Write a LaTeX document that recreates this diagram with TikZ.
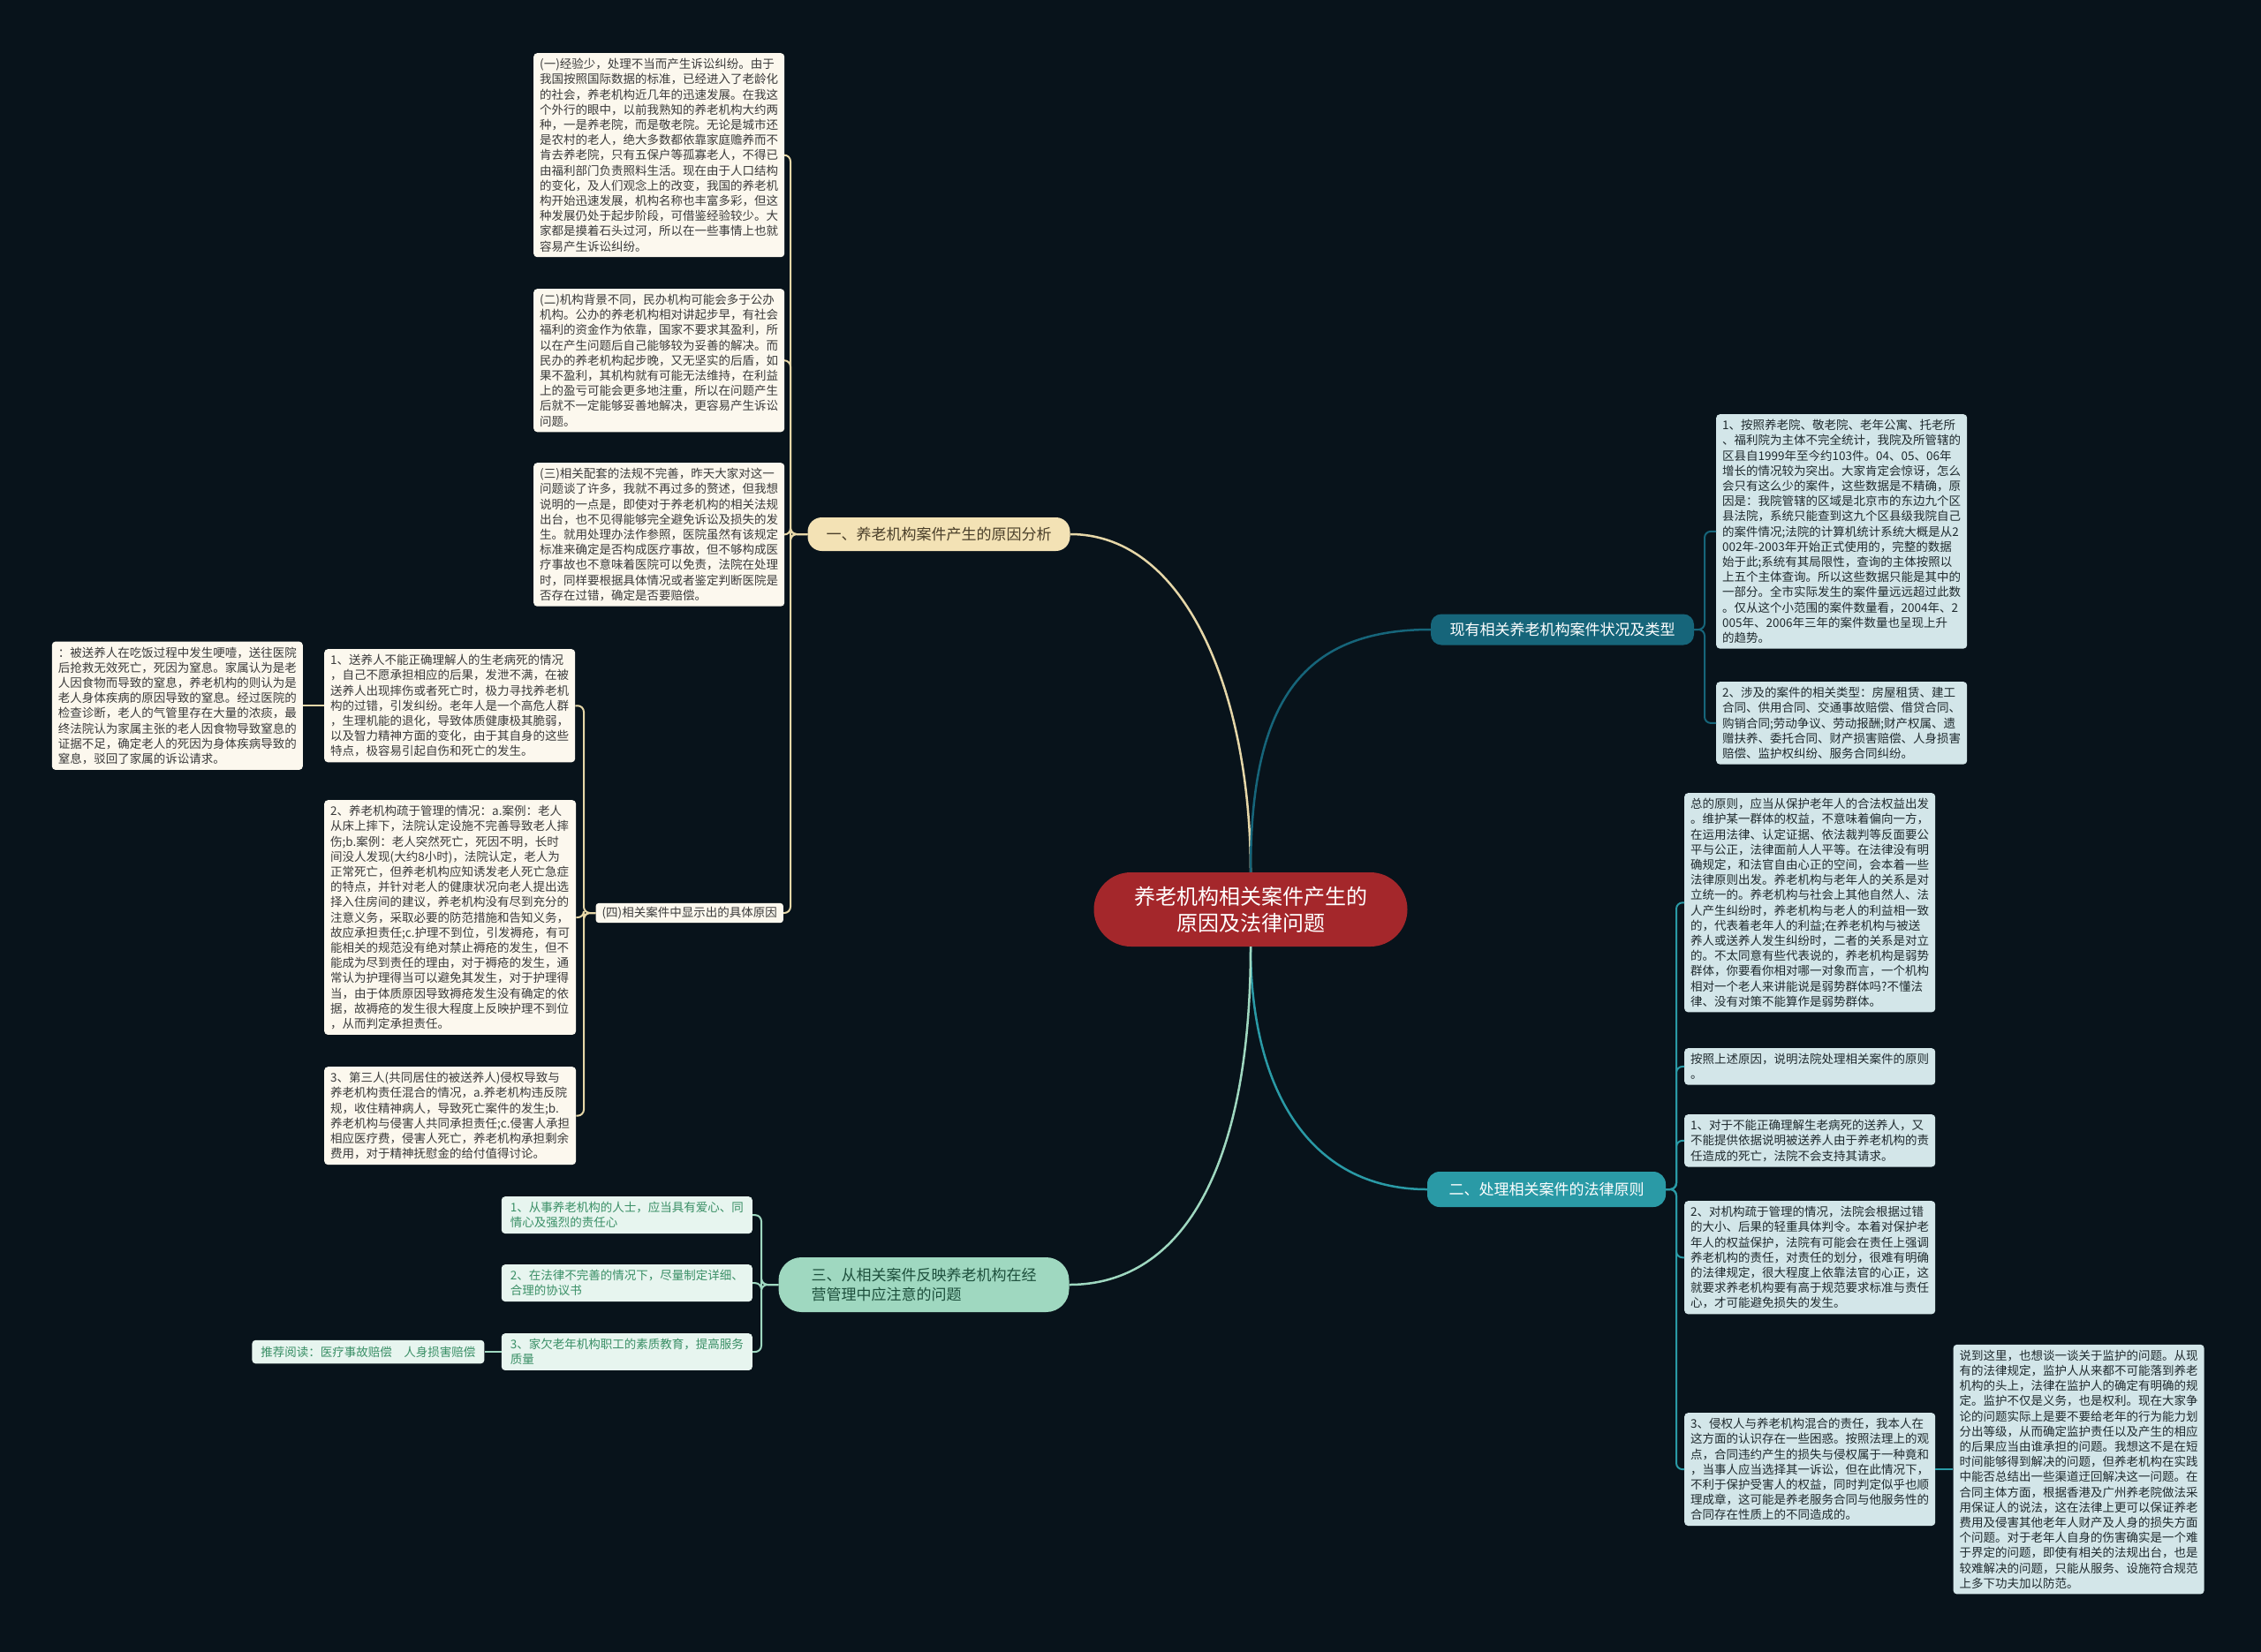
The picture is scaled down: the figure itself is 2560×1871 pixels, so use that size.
\documentclass[tikz,border=0pt]{standalone}
\usepackage{fontspec}
\setmainfont{Noto Sans CJK SC}
\definecolor{bg}{HTML}{08131B}
\definecolor{creamfill}{HTML}{FCF8EE}
\definecolor{creamtext}{HTML}{3A3A3A}
\definecolor{b1fill}{HTML}{F3E2B5}
\definecolor{b1text}{HTML}{4A3F2A}
\definecolor{beigeline}{HTML}{E6D7A8}
\definecolor{tealdark}{HTML}{16657A}
\definecolor{tealmid}{HTML}{2A9AA6}
\definecolor{bluefill}{HTML}{D3E6E9}
\definecolor{bluetext}{HTML}{1F2A2E}
\definecolor{greenbr}{HTML}{9FD8C0}
\definecolor{greenbrtext}{HTML}{1D4F3C}
\definecolor{greenfill}{HTML}{E7F5EF}
\definecolor{greentext}{HTML}{3A8F66}
\definecolor{centrefill}{HTML}{A4272B}
\tikzset{
  boxbase/.style={anchor=north west, align=left, rounded corners=4pt, inner xsep=7pt, inner ysep=6pt, font=\fontsize{13.5}{17.2}\selectfont},
  creambox/.style={boxbase, fill=creamfill, text=creamtext},
  bluebox/.style={boxbase, fill=bluefill, text=bluetext},
  greenbox/.style={boxbase, fill=greenfill, text=greentext, inner xsep=10pt},
  branchbase/.style={anchor=center, align=left, inner xsep=20pt, inner ysep=8pt, font=\fontsize{17}{22}\selectfont},
  beigecon/.style={draw=beigeline, line width=2pt, rounded corners=7pt},
  teal1con/.style={draw=tealdark, line width=2pt, rounded corners=7pt},
  teal2con/.style={draw=tealmid, line width=2pt, rounded corners=7pt},
  greencon/.style={draw=greenbr, line width=2pt, rounded corners=7pt},
}
\begin{document}
\begin{tikzpicture}[x=1pt,y=-1pt]
\fill[bg] (0,0) rectangle (2560,1871);
\useasboundingbox (0,0) rectangle (2560,1871);

% ---------- centre ----------
\node[anchor=center, fill=centrefill, text=white, rounded corners=42pt, align=center,
      inner xsep=40pt, inner ysep=14pt, minimum width=355pt, minimum height=84pt,
      font=\fontsize{24}{30}\selectfont] (centre) at (1416,1030)
  {养老机构相关案件产生的\\原因及法律问题};

% ---------- branch 1 (left top) ----------
\node[branchbase, fill=b1fill, text=b1text, rounded corners=16pt, minimum width=297pt, minimum height=38pt] (b1) at (1063,605) {一、养老机构案件产生的原因分析};

\node[creambox] (c1) at (604,60) {(一)经验少，处理不当而产生诉讼纠纷。由于\\
我国按照国际数据的标准，已经进入了老龄化\\
的社会，养老机构近几年的迅速发展。在我这\\
个外行的眼中，以前我熟知的养老机构大约两\\
种，一是养老院，而是敬老院。无论是城市还\\
是农村的老人，绝大多数都依靠家庭赡养而不\\
肯去养老院，只有五保户等孤寡老人，不得已\\
由福利部门负责照料生活。现在由于人口结构\\
的变化，及人们观念上的改变，我国的养老机\\
构开始迅速发展，机构名称也丰富多彩，但这\\
种发展仍处于起步阶段，可借鉴经验较少。大\\
家都是摸着石头过河，所以在一些事情上也就\\
容易产生诉讼纠纷。};

\node[creambox] (c2) at (604,327) {(二)机构背景不同，民办机构可能会多于公办\\
机构。公办的养老机构相对讲起步早，有社会\\
福利的资金作为依靠，国家不要求其盈利，所\\
以在产生问题后自己能够较为妥善的解决。而\\
民办的养老机构起步晚，又无坚实的后盾，如\\
果不盈利，其机构就有可能无法维持，在利益\\
上的盈亏可能会更多地注重，所以在问题产生\\
后就不一定能够妥善地解决，更容易产生诉讼\\
问题。};

\node[creambox] (c3) at (604,524) {(三)相关配套的法规不完善，昨天大家对这一\\
问题谈了许多，我就不再过多的赘述，但我想\\
说明的一点是，即使对于养老机构的相关法规\\
出台，也不见得能够完全避免诉讼及损失的发\\
生。就用处理办法作参照，医院虽然有该规定\\
标准来确定是否构成医疗事故，但不够构成医\\
疗事故也不意味着医院可以免责，法院在处理\\
时，同样要根据具体情况或者鉴定判断医院是\\
否存在过错，确定是否要赔偿。};

\node[creambox, anchor=east, inner ysep=4pt, rounded corners=3pt] (d4) at (887,1034) {(四)相关案件中显示出的具体原因};

\node[creambox] (k1) at (367,735) {1、送养人不能正确理解人的生老病死的情况\\
，自己不愿承担相应的后果，发泄不满，在被\\
送养人出现摔伤或者死亡时，极力寻找养老机\\
构的过错，引发纠纷。老年人是一个高危人群\\
，生理机能的退化，导致体质健康极其脆弱，\\
以及智力精神方面的变化，由于其自身的这些\\
特点，极容易引起自伤和死亡的发生。};

\node[creambox] (k2) at (367,906) {2、养老机构疏于管理的情况：a.案例：老人\\
从床上摔下，法院认定设施不完善导致老人摔\\
伤;b.案例：老人突然死亡，死因不明，长时\\
间没人发现(大约8小时)，法院认定，老人为\\
正常死亡，但养老机构应知诱发老人死亡急症\\
的特点，并针对老人的健康状况向老人提出选\\
择入住房间的建议，养老机构没有尽到充分的\\
注意义务，采取必要的防范措施和告知义务，\\
故应承担责任;c.护理不到位，引发褥疮，有可\\
能相关的规范没有绝对禁止褥疮的发生，但不\\
能成为尽到责任的理由，对于褥疮的发生，通\\
常认为护理得当可以避免其发生，对于护理得\\
当，由于体质原因导致褥疮发生没有确定的依\\
据，故褥疮的发生很大程度上反映护理不到位\\
，从而判定承担责任。};

\node[creambox] (k3) at (367,1208) {3、第三人(共同居住的被送养人)侵权导致与\\
养老机构责任混合的情况，a.养老机构违反院\\
规，收住精神病人，导致死亡案件的发生;b.\\
养老机构与侵害人共同承担责任;c.侵害人承担\\
相应医疗费，侵害人死亡，养老机构承担剩余\\
费用，对于精神抚慰金的给付值得讨论。};

\node[creambox, anchor=east] (fl) at ([xshift=-24pt]k1.west) {：被送养人在吃饭过程中发生哽噎，送往医院\\
后抢救无效死亡，死因为窒息。家属认为是老\\
人因食物而导致的窒息，养老机构的则认为是\\
老人身体疾病的原因导致的窒息。经过医院的\\
检查诊断，老人的气管里存在大量的浓痰，最\\
终法院认为家属主张的老人因食物导致窒息的\\
证据不足，确定老人的死因为身体疾病导致的\\
窒息，驳回了家属的诉讼请求。};

% ---------- branch: 现有 (right top) ----------
\node[branchbase, fill=tealdark, text=white, rounded corners=12pt, minimum width=298pt, minimum height=35pt] (br) at (1769,713) {现有相关养老机构案件状况及类型};

\node[bluebox] (r1) at (1943,469) {1、按照养老院、敬老院、老年公寓、托老所\\
、福利院为主体不完全统计，我院及所管辖的\\
区县自1999年至今约103件。04、05、06年\\
增长的情况较为突出。大家肯定会惊讶，怎么\\
会只有这么少的案件，这些数据是不精确，原\\
因是：我院管辖的区域是北京市的东边九个区\\
县法院，系统只能查到这九个区县级我院自己\\
的案件情况;法院的计算机统计系统大概是从2\\
002年-2003年开始正式使用的，完整的数据\\
始于此;系统有其局限性，查询的主体按照以\\
上五个主体查询。所以这些数据只能是其中的\\
一部分。全市实际发生的案件量远远超过此数\\
。仅从这个小范围的案件数量看，2004年、2\\
005年、2006年三年的案件数量也呈现上升\\
的趋势。};

\node[bluebox] (r2) at (1943,772) {2、涉及的案件的相关类型：房屋租赁、建工\\
合同、供用合同、交通事故赔偿、借贷合同、\\
购销合同;劳动争议、劳动报酬;财产权属、遗\\
赠扶养、委托合同、财产损害赔偿、人身损害\\
赔偿、监护权纠纷、服务合同纠纷。};

% ---------- branch 二 (right bottom) ----------
\node[branchbase, fill=tealmid, text=white, rounded corners=14pt, minimum width=270pt, minimum height=40pt] (b2) at (1751,1347) {二、处理相关案件的法律原则};

\node[bluebox] (p0) at (1907,898) {总的原则，应当从保护老年人的合法权益出发\\
。维护某一群体的权益，不意味着偏向一方，\\
在运用法律、认定证据、依法裁判等反面要公\\
平与公正，法律面前人人平等。在法律没有明\\
确规定，和法官自由心正的空间，会本着一些\\
法律原则出发。养老机构与老年人的关系是对\\
立统一的。养老机构与社会上其他自然人、法\\
人产生纠纷时，养老机构与老人的利益相一致\\
的，代表着老年人的利益;在养老机构与被送\\
养人或送养人发生纠纷时，二者的关系是对立\\
的。不太同意有些代表说的，养老机构是弱势\\
群体，你要看你相对哪一对象而言，一个机构\\
相对一个老人来讲能说是弱势群体吗?不懂法\\
律、没有对策不能算作是弱势群体。};

\node[bluebox] (p1) at (1907,1187) {按照上述原因，说明法院处理相关案件的原则\\
。};

\node[bluebox] (p2) at (1907,1262) {1、对于不能正确理解生老病死的送养人，又\\
不能提供依据说明被送养人由于养老机构的责\\
任造成的死亡，法院不会支持其请求。};

\node[bluebox] (p3) at (1907,1360) {2、对机构疏于管理的情况，法院会根据过错\\
的大小、后果的轻重具体判令。本着对保护老\\
年人的权益保护，法院有可能会在责任上强调\\
养老机构的责任，对责任的划分，很难有明确\\
的法律规定，很大程度上依靠法官的心正，这\\
就要求养老机构要有高于规范要求标准与责任\\
心，才可能避免损失的发生。};

\node[bluebox] (p4) at (1907,1600) {3、侵权人与养老机构混合的责任，我本人在\\
这方面的认识存在一些困惑。按照法理上的观\\
点，合同违约产生的损失与侵权属于一种竟和\\
，当事人应当选择其一诉讼，但在此情况下，\\
不利于保护受害人的权益，同时判定似乎也顺\\
理成章，这可能是养老服务合同与他服务性的\\
合同存在性质上的不同造成的。};

\node[bluebox, anchor=west] (fr) at ([xshift=20pt]p4.east) {说到这里，也想谈一谈关于监护的问题。从现\\
有的法律规定，监护人从来都不可能落到养老\\
机构的头上，法律在监护人的确定有明确的规\\
定。监护不仅是义务，也是权利。现在大家争\\
论的问题实际上是要不要给老年的行为能力划\\
分出等级，从而确定监护责任以及产生的相应\\
的后果应当由谁承担的问题。我想这不是在短\\
时间能够得到解决的问题，但养老机构在实践\\
中能否总结出一些渠道迂回解决这一问题。在\\
合同主体方面，根据香港及广州养老院做法采\\
用保证人的说法，这在法律上更可以保证养老\\
费用及侵害其他老年人财产及人身的损失方面\\
个问题。对于老年人自身的伤害确实是一个难\\
于界定的问题，即使有相关的法规出台，也是\\
较难解决的问题，只能从服务、设施符合规范\\
上多下功夫加以防范。};

% ---------- branch 三 (left bottom) ----------
\node[branchbase, fill=greenbr, text=greenbrtext, rounded corners=26pt, inner xsep=28pt, minimum width=329pt, minimum height=62pt] (b3) at (1046,1455) {三、从相关案件反映养老机构在经\\营管理中应注意的问题};

\node[greenbox, anchor=north east] (g1) at (852,1355) {1、从事养老机构的人士，应当具有爱心、同\\情心及强烈的责任心};
\node[greenbox, anchor=north east] (g2) at (852,1432) {2、在法律不完善的情况下，尽量制定详细、\\合理的协议书};
\node[greenbox, anchor=north east] (g3) at (852,1510) {3、家欠老年机构职工的素质教育，提高服务\\质量};
\node[greenbox, anchor=east, inner ysep=7pt] (rec) at ([xshift=-19pt]g3.west) {推荐阅读：医疗事故赔偿\quad 人身损害赔偿};

% ---------- vertical guide coordinates ----------
\coordinate (v1) at (895,0);
\coordinate (v4) at (661,0);
\coordinate (vr) at (1930,0);
\coordinate (v2) at (1898,0);
\coordinate (v3) at (862,0);

% ---------- connectors from centre ----------
\draw[beigeline, line width=2.5pt] (centre.north) .. controls (1416,790) and (1345,605) .. (b1.east);
\draw[tealdark, line width=2.5pt] (centre.north) .. controls (1416,800) and (1470,713) .. (br.west);
\draw[tealmid, line width=2.5pt] (centre.south) .. controls (1416,1230) and (1480,1347) .. (b2.west);
\draw[greenbr, line width=2.5pt] (centre.south) .. controls (1416,1320) and (1340,1455) .. (b3.east);

% ---------- branch 1 children ----------
\foreach \n in {c1,c2,c3,d4}
  \draw[beigecon] (b1.west) -- (b1.west -| v1) |- (\n.east);
\foreach \n in {k1,k2,k3}
  \draw[beigecon] (d4.west) -- (d4.west -| v4) |- (\n.east);
\draw[beigecon] (k1.west) -- (fl.east);

% ---------- right top children ----------
\foreach \n in {r1,r2}
  \draw[teal1con] (br.east) -- (br.east -| vr) |- (\n.west);

% ---------- 二 children ----------
\foreach \n in {p0,p1,p2,p3,p4}
  \draw[teal2con] (b2.east) -- (b2.east -| v2) |- (\n.west);
\draw[teal2con] (p4.east) -- (fr.west);

% ---------- 三 children ----------
\foreach \n in {g1,g2,g3}
  \draw[greencon] (b3.west) -- (b3.west -| v3) |- (\n.east);
\draw[greencon] (g3.west) -- (rec.east);
\end{tikzpicture}
\end{document}
